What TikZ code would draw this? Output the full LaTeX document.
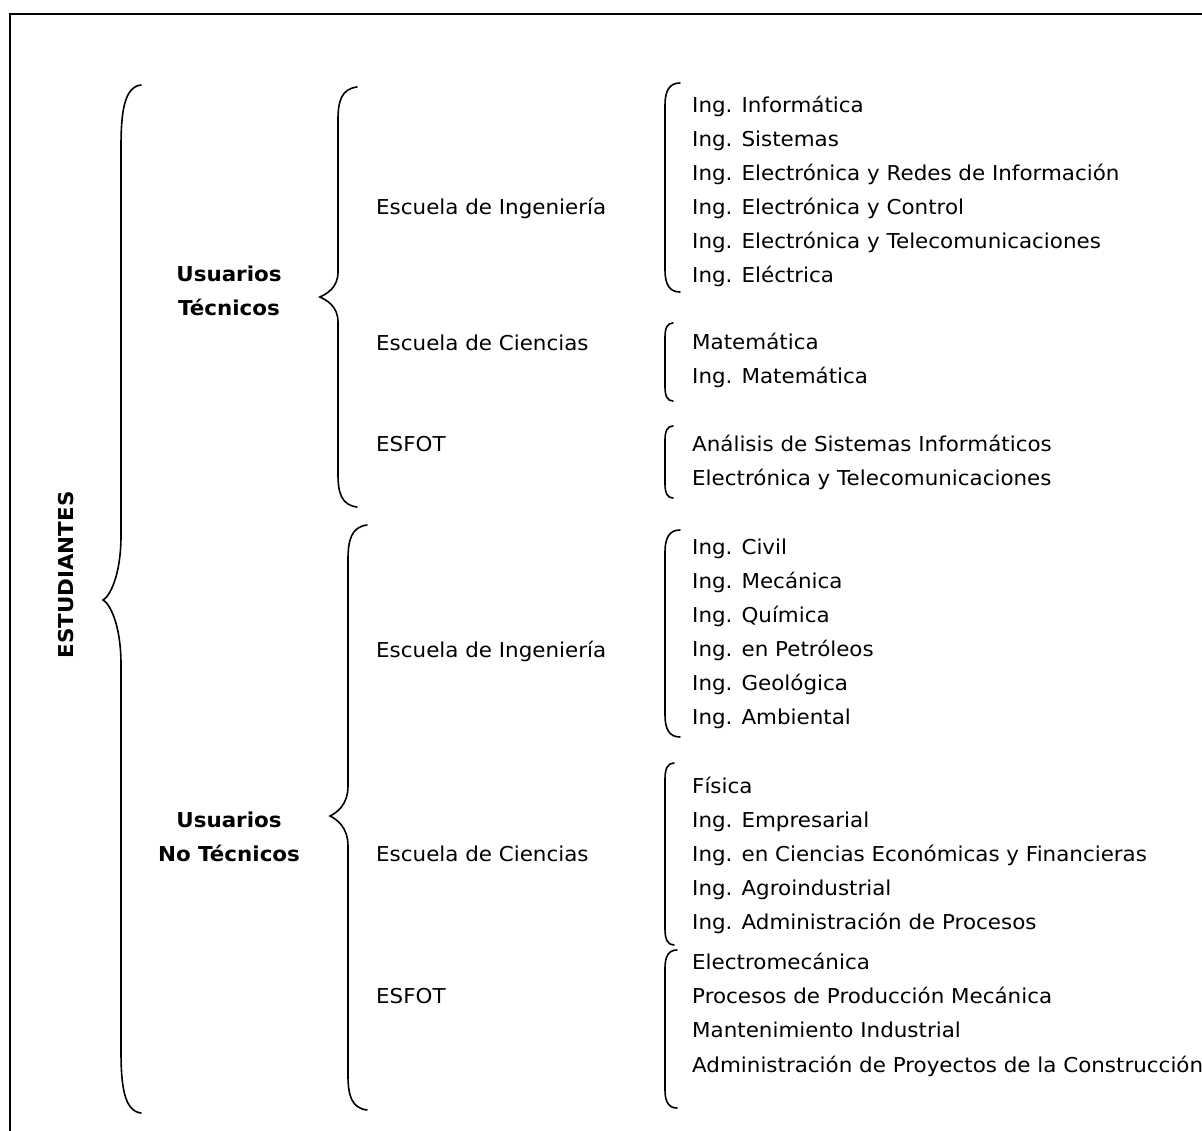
\documentclass[tikz,border=0pt]{standalone}
\usepackage{fontspec}
\setmainfont{DejaVu Sans}[FakeStretch=1.045]
\newcommand\itemfont{\fontsize{20.5}{34}\selectfont}
% curly brace: tipx tipy vertx endx top bottom endlen tiplen
\newcommand\cbrace[8]{%
  \draw[brc] (#4,#5) .. controls (#3+3,#5+2) and (#3,#5+0.45*#7) .. (#3,#5+#7)
    -- (#3,#2-#8) .. controls (#3,#2-0.35*#8) and (#1+6,#2-3) .. (#1,#2)
    .. controls (#1+6,#2+3) and (#3,#2+0.35*#8) .. (#3,#2+#8)
    -- (#3,#6-#7) .. controls (#3,#6-0.45*#7) and (#3+3,#6-2) .. (#4,#6);}
% square-ish bracket: x top bottom w r
\newcommand\sqbr[5]{%
  \draw[brc] (#1+#4,#2) .. controls (#1+0.3*#4,#2) and (#1,#2+0.35*#5) .. (#1,#2+#5)
    -- (#1,#3-#5) .. controls (#1,#3-0.35*#5) and (#1+0.3*#4,#3) .. (#1+#4,#3);}
\begin{document}
\begin{tikzpicture}[x=1pt,y=-1pt,
  brc/.style={line width=1.6pt,line cap=round},
  itm/.style={anchor=base west,inner sep=0pt,font=\itemfont},
  grp/.style={anchor=base,inner sep=0pt,font=\itemfont\bfseries,align=center}]
\useasboundingbox (0,0) rectangle (1202,1131);
\clip (0,0) rectangle (1202,1131);
\draw[line width=1.8pt] (10,14) rectangle (1215,1145);

% ESTUDIANTES
\node[font=\itemfont\bfseries,rotate=90,inner sep=0pt] (est) at (66,575) {ESTUDIANTES};
\cbrace{103}{600}{121}{141}{85}{1113}{62}{65}

% level 2
\node[grp] (ut1) at (229,282) {Usuarios};
\node[grp] (ut2) at (229,316) {Técnicos};
\node[grp] (un1) at (229,827) {Usuarios};
\node[grp] (un2) at (229,861) {No Técnicos};
\cbrace{320}{297}{338}{357}{87}{507}{33}{25}
\cbrace{330}{816}{348}{367}{525}{1110}{35}{30}

% schools
\node[itm] (s1) at (376,215) {Escuela de Ingeniería};
\node[itm] (s2) at (376,351) {Escuela de Ciencias};
\node[itm] (s3) at (376,451) {ESFOT};
\node[itm] (s4) at (376,657) {Escuela de Ingeniería};
\node[itm] (s5) at (376,861) {Escuela de Ciencias};
\node[itm] (s6) at (376,1003) {ESFOT};

% brackets
\sqbr{665}{83}{292}{15}{22}
\sqbr{665}{323}{401}{8}{14}
\sqbr{665}{426}{498}{8}{14}
\sqbr{665}{530}{737}{15}{22}
\sqbr{665}{763}{945}{9}{16}
\sqbr{665}{950}{1108}{12}{18}

% group 1
\node[itm] (a1) at (692,113) {Ing. Informática};
\node[itm] (a2) at (692,147) {Ing. Sistemas};
\node[itm] (a3) at (692,181) {Ing. Electrónica y Redes de Información};
\node[itm] (a4) at (692,215) {Ing. Electrónica y Control};
\node[itm] (a5) at (692,249) {Ing. Electrónica y Telecomunicaciones};
\node[itm] (a6) at (692,283) {Ing. Eléctrica};
% group 2
\node[itm] (b1) at (692,350) {Matemática};
\node[itm] (b2) at (692,384) {Ing. Matemática};
% group 3
\node[itm] (c1) at (692,451) {Análisis de Sistemas Informáticos};
\node[itm] (c2) at (692,485) {Electrónica y Telecomunicaciones};
% group 4
\node[itm] (d1) at (692,554) {Ing. Civil};
\node[itm] (d2) at (692,588) {Ing. Mecánica};
\node[itm] (d3) at (692,622) {Ing. Química};
\node[itm] (d4) at (692,656) {Ing. en Petróleos};
\node[itm] (d5) at (692,690) {Ing. Geológica};
\node[itm] (d6) at (692,724) {Ing. Ambiental};
% group 5
\node[itm] (e1) at (692,793) {Física};
\node[itm] (e2) at (692,827) {Ing. Empresarial};
\node[itm] (e3) at (692,861) {Ing. en Ciencias Económicas y Financieras};
\node[itm] (e4) at (692,895) {Ing. Agroindustrial};
\node[itm] (e5) at (692,929) {Ing. Administración de Procesos};
% group 6
\node[itm] (f1) at (692,969) {Electromecánica};
\node[itm] (f2) at (692,1003) {Procesos de Producción Mecánica};
\node[itm] (f3) at (692,1037) {Mantenimiento Industrial};
\node[itm] (f4) at (692,1072) {Administración de Proyectos de la Construcción};
\end{tikzpicture}
\end{document}
